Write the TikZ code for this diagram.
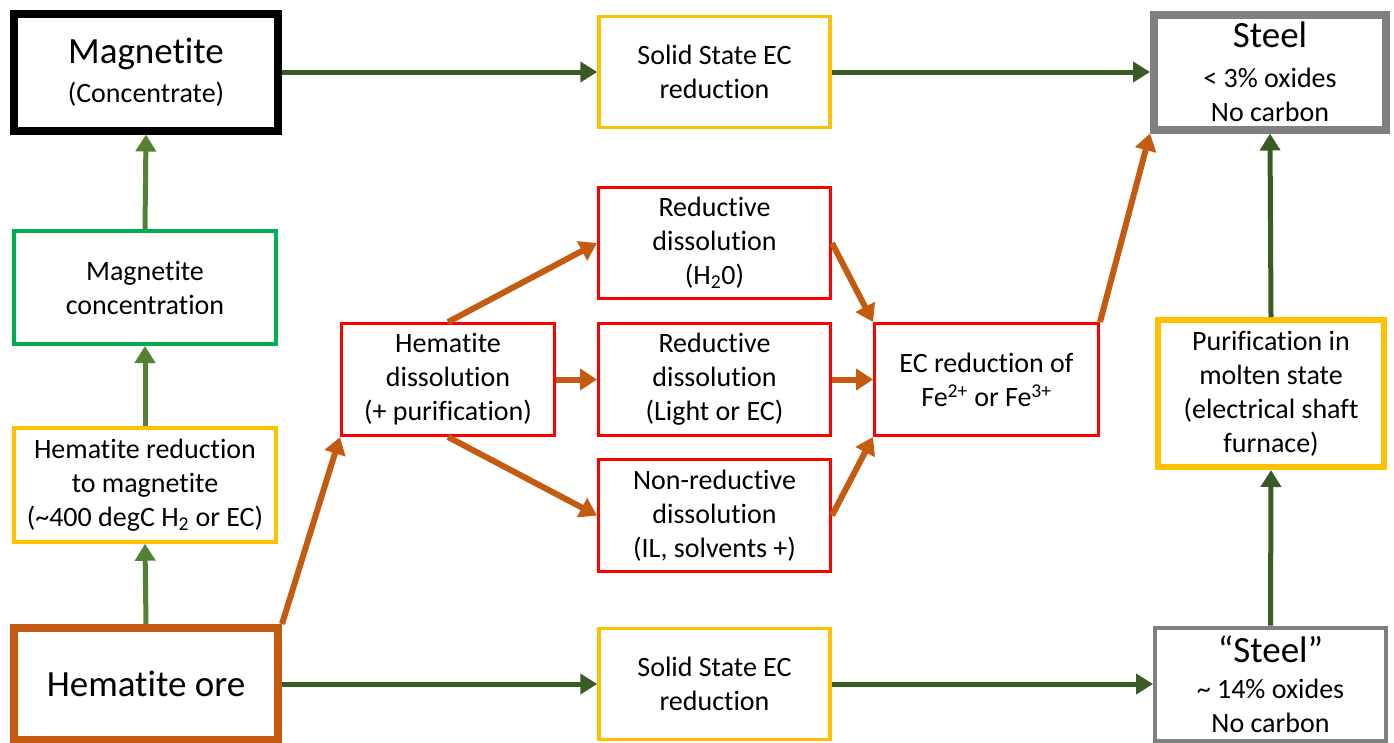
\documentclass[tikz,border=0pt]{standalone}
\usepackage{fontspec}
\setmainfont{Carlito}[Ligatures={NoCommon}]
\usetikzlibrary{arrows.meta}
\definecolor{dkgreen}{HTML}{3B5B26}
\definecolor{ltgreen}{HTML}{548235}
\definecolor{orng}{HTML}{C55A11}
\definecolor{boxgreen}{HTML}{00B050}
\definecolor{boxyellow}{HTML}{FFC000}
\definecolor{boxred}{HTML}{FF0000}
\definecolor{boxgray}{HTML}{808080}
\newcommand{\nfs}{\fontsize{28}{34}\selectfont}
\newcommand{\bfs}{\fontsize{37}{42}\selectfont}
\begin{document}
\begin{tikzpicture}[x=1pt,y=-1pt,
  box/.style={draw, fill=white, inner sep=0pt, align=center, font=\nfs},
  garrow/.style={draw=dkgreen, line width=5pt, -{Triangle[length=17pt,width=20pt]}},
  larrow/.style={draw=ltgreen, line width=5pt, -{Triangle[length=17pt,width=20pt]}},
  oarrow/.style={draw=orng, line width=6pt, -{Triangle[length=17pt,width=21pt]}}]
\useasboundingbox (0,0) rectangle (1394,742);
% boxes
\node[box, draw=black, line width=8pt, minimum width=264pt, minimum height=117pt] (mag) at (146,72)
  {{\bfs Magnetite}\\[5pt](Concentrate)};
\node[box, draw=boxgreen, line width=4pt, minimum width=262pt, minimum height=113pt] (conc) at (145,287.5)
  {Magnetite\\concentration};
\node[box, draw=boxyellow, line width=3.5pt, minimum width=262pt, minimum height=114pt] (hred) at (145,485)
  {Hematite reduction\\to magnetite\\(\textasciitilde400 degC H\textsubscript{2} or EC)};
\node[box, draw=orng, line width=8pt, minimum width=264pt, minimum height=112pt] (ore) at (146,684)
  {\bfs Hematite ore};
\node[box, draw=boxyellow, line width=3.5pt, minimum width=231pt, minimum height=111pt] (ss1) at (714.5,72)
  {Solid State EC\\reduction};
\node[box, draw=boxyellow, line width=3.5pt, minimum width=231pt, minimum height=111pt] (ss2) at (714.5,684)
  {Solid State EC\\reduction};
\node[box, draw=boxgray, line width=8pt, minimum width=232pt, minimum height=115pt] (steel) at (1270,72)
  {{\bfs Steel}\\[6pt]< 3\% oxides\\No carbon};
\node[box, draw=boxgray, line width=4pt, minimum width=231pt, minimum height=113pt] (steel2) at (1270.5,684)
  {{\bfs “Steel”}\\[2pt]\textasciitilde{} 14\% oxides\\No carbon};
\node[box, draw=boxyellow, line width=6pt, minimum width=226pt, minimum height=147pt] (pur) at (1271,393.5)
  {Purification in\\molten state\\(electrical shaft\\furnace)};
\node[box, draw=boxred, line width=3pt, minimum width=213pt, minimum height=112pt] (hdiss) at (448,379.5)
  {Hematite\\dissolution\\(+ purification)};
\node[box, draw=boxred, line width=3pt, minimum width=232pt, minimum height=111pt] (rd1) at (714.5,243)
  {Reductive\\dissolution\\(H\textsubscript{2}0)};
\node[box, draw=boxred, line width=3pt, minimum width=232pt, minimum height=112pt] (rd2) at (714.5,379.5)
  {Reductive\\dissolution\\(Light or EC)};
\node[box, draw=boxred, line width=3pt, minimum width=232pt, minimum height=112pt] (nrd) at (714.5,515.5)
  {Non-reductive\\dissolution\\(IL, solvents +)};
\node[box, draw=boxred, line width=3pt, minimum width=224pt, minimum height=112pt] (ec) at (986.5,379.5)
  {EC reduction of\\Fe\textsuperscript{2+} or Fe\textsuperscript{3+}};
% green arrows
\draw[garrow] (mag.east) -- (ss1.west);
\draw[garrow] (ss1.east) -- (steel.west);
\draw[garrow] (ore.east) -- (ss2.west);
\draw[garrow] (ss2.east) -- (steel2.west);
\draw[garrow] (steel2.north) -- (pur.south);
\draw[garrow] (pur.north) -- (steel.south);
\draw[larrow] (conc.north) -- (mag.south);
\draw[larrow] (hred.north) -- (conc.south);
\draw[larrow] (ore.north) -- (hred.south);
% orange arrows
\draw[oarrow] (ore.north east) -- (hdiss.south west);
\draw[oarrow] (hdiss.north) -- (rd1.west);
\draw[oarrow] (hdiss.east) -- (rd2.west);
\draw[oarrow] (hdiss.south) -- (nrd.west);
\draw[oarrow] (rd1.east) -- (ec.north west);
\draw[oarrow] (rd2.east) -- (ec.west);
\draw[oarrow] (nrd.east) -- (ec.south west);
\draw[oarrow] (ec.north east) -- (steel.south west);
\end{tikzpicture}
\end{document}
